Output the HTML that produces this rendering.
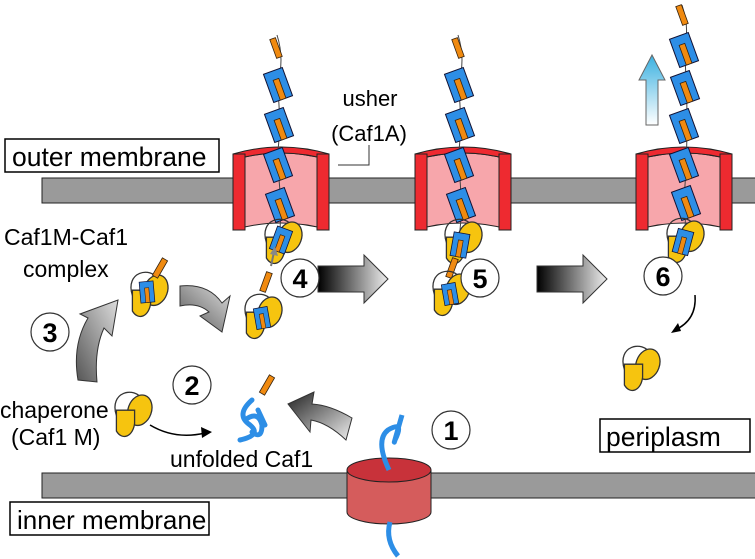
<!DOCTYPE html>
<html><head><style>
html,body{margin:0;padding:0;background:#fff;}
svg{display:block;font-family:"Liberation Sans",sans-serif;}
</style></head><body>
<svg width="755" height="559" viewBox="0 0 755 559" xmlns="http://www.w3.org/2000/svg">
<defs>
<linearGradient id="bw" x1="0" x2="1" y1="0" y2="0"><stop offset="0" stop-color="#000"/><stop offset="1" stop-color="#eee"/></linearGradient>
<linearGradient id="gw" x1="0" x2="1" y1="1" y2="0"><stop offset="0" stop-color="#555"/><stop offset="1" stop-color="#ddd"/></linearGradient>
<linearGradient id="bw2" x1="0" x2="1" y1="0" y2="1"><stop offset="0" stop-color="#222"/><stop offset="1" stop-color="#eee"/></linearGradient>
<linearGradient id="cy" x1="0" x2="0" y1="1" y2="0"><stop offset="0" stop-color="#fff"/><stop offset="1" stop-color="#3ab0e0"/></linearGradient>
<g id="sub"><rect x="-10" y="-15" width="20" height="30" fill="#2d8ee6" stroke="#113" stroke-width="1"/><rect x="-3" y="-6" width="6" height="21" fill="#f08a10" stroke="#321" stroke-width="0.8"/></g>
<g id="tip"><rect x="-3" y="-10" width="6" height="20" fill="#f08a10" stroke="#321" stroke-width="0.8"/></g>
<g id="chap" transform="scale(1.3)"><path d="M-12,-2 C-18,-20 2,-25 8,-14" fill="none" stroke="#333" stroke-width="1"/><ellipse cx="6" cy="-6" rx="9" ry="12" fill="#f6c40f" stroke="#333" transform="rotate(20 6 -6)"/><path d="M-12,-6 h14 v10 a8,12 0 0 1 -14,6 z" fill="#f6c40f" stroke="#333"/></g>
<g id="pore">
<path d="M0,0 Q48,-14 96,0 L96,70 Q48,56 0,70 Z" fill="#f7a6ab" stroke="#222"/>
<path d="M0,0 Q48,-14 96,0 L96,-6 Q48,-20 0,-6 Z" fill="#ee2a30" stroke="#222"/>
<rect x="0" y="-6" width="12" height="76" fill="#ee2a30" stroke="#222"/>
<rect x="84" y="-6" width="12" height="76" fill="#ee2a30" stroke="#222"/>
</g>
<g id="bigarr"><path d="M0,-13 H46 V-24 L70,0 L46,24 V13 H0 Z" fill="url(#bw)" stroke="#333"/></g>
</defs>

<rect x="42" y="178" width="720" height="25" fill="#9a9a9a" stroke="#222"/>
<rect x="42" y="473" width="720" height="25" fill="#9a9a9a" stroke="#222"/>
<rect x="5" y="139" width="214" height="33" fill="#fff" stroke="#000" stroke-width="1.5"/>
<text x="12" y="166" font-size="26.5">outer membrane</text>
<rect x="10" y="502" width="199" height="33" fill="#fff" stroke="#000" stroke-width="1.5"/>
<text x="17" y="529" font-size="26">inner membrane</text>
<rect x="600" y="419" width="150" height="33" fill="#fff" stroke="#000" stroke-width="1.5"/>
<text x="606" y="446" font-size="26.5">periplasm</text>

<use href="#pore" x="233" y="160"/>
<use href="#pore" x="415" y="160"/>
<use href="#pore" x="636" y="160"/>

<text x="370" y="106" font-size="22" text-anchor="middle">usher</text>
<text x="369" y="141" font-size="22" text-anchor="middle">(Caf1A)</text>
<path d="M369,145 V165 H338" fill="none" stroke="#333"/>

<g stroke="#444" fill="none"><path d="M277,35 Q285,60 277,85 Q282,120 277,160 Q282,200 280,230"/></g>
<use href="#tip" transform="translate(276,48) rotate(-20)"/>
<use href="#sub" transform="translate(278,85) rotate(-20)"/>
<use href="#sub" transform="translate(279,125) rotate(-20)"/>
<use href="#sub" transform="translate(278,165) rotate(-20)"/>
<use href="#sub" transform="translate(280,205) rotate(-20)"/>
<use href="#chap" transform="translate(282,245)"/>
<use href="#sub" transform="translate(281,240) rotate(20) scale(0.8)"/>
<path d="M271,266 L274,252" stroke="#777" stroke-width="2"/><path d="M270,254 L275,246 L278,256 Z" fill="#888"/>
<use href="#tip" transform="translate(266,282) rotate(20)"/>
<use href="#chap" transform="translate(262,320)"/>
<use href="#sub" transform="translate(262,318) rotate(-10) scale(0.7)"/>

<g stroke="#444" fill="none"><path d="M458,35 Q466,60 458,85 Q463,120 458,160 Q463,200 460,230"/></g>
<use href="#tip" transform="translate(458,48) rotate(-20)"/>
<use href="#sub" transform="translate(459,85) rotate(-20)"/>
<use href="#sub" transform="translate(460,125) rotate(-20)"/>
<use href="#sub" transform="translate(459,165) rotate(-20)"/>
<use href="#sub" transform="translate(461,205) rotate(-20)"/>
<use href="#chap" transform="translate(462,245)"/>
<use href="#sub" transform="translate(460,245) rotate(10) scale(0.8)"/>
<use href="#tip" transform="translate(452,268) rotate(20)"/>
<use href="#chap" transform="translate(450,297)"/>
<use href="#sub" transform="translate(450,294) rotate(-10) scale(0.7)"/>

<g stroke="#444" fill="none"><path d="M682,5 Q690,30 684,45 Q690,120 684,200 Q686,215 685,230"/></g>
<use href="#tip" transform="translate(682,15) rotate(-20)"/>
<use href="#sub" transform="translate(684,50) rotate(-20)"/>
<use href="#sub" transform="translate(685,88) rotate(-20)"/>
<use href="#sub" transform="translate(684,126) rotate(-20)"/>
<use href="#sub" transform="translate(684,165) rotate(-20)"/>
<use href="#sub" transform="translate(686,203) rotate(-20)"/>
<use href="#chap" transform="translate(684,244)"/>
<use href="#sub" transform="translate(683,242) rotate(15) scale(0.8)"/>
<path d="M646,125 V80 H639 L652,55 L665,80 H658 V125 Z" fill="url(#cy)" stroke="#666"/>

<use href="#chap" transform="translate(640,372)"/>
<path d="M695,295 Q697,320 675,330" fill="none" stroke="#000" stroke-width="1.5"/><path d="M671,333 L678,323 L681,331 Z" fill="#000"/>

<use href="#chap" transform="translate(148,298)"/>
<use href="#sub" transform="translate(147,292) rotate(-5) scale(0.7)"/>
<use href="#tip" transform="translate(160,268) rotate(30)"/>

<use href="#chap" transform="translate(132,418)"/>
<text x="0" y="418" font-size="23">chaperone</text>
<text x="11" y="445" font-size="23">(Caf1 M)</text>
<text x="4" y="245" font-size="23">Caf1M-Caf1</text>
<text x="23" y="277" font-size="23">complex</text>
<path d="M150,425 Q175,440 205,433" fill="none" stroke="#000" stroke-width="1.5"/><path d="M212,432 L201,427 L202,438 Z" fill="#000"/>

<g stroke="#2d8ee6" stroke-width="5" fill="none" stroke-linecap="round">
<path d="M252,400 Q235,415 250,425 Q262,435 240,440 M245,420 Q258,410 262,425 Q262,440 252,432 M258,410 L265,425"/>
</g>
<use href="#tip" transform="translate(267,385) rotate(30)"/>
<text x="170" y="467" font-size="23">unfolded Caf1</text>

<path d="M347,470 V512 A42,12 0 0 0 431,512 V470 Z" fill="#d55c5c" stroke="#222"/>
<ellipse cx="389" cy="470" rx="42" ry="12" fill="#c8323a" stroke="#222"/>
<path d="M389,470 Q375,440 388,430 Q405,420 395,440 Q392,450 402,415" fill="none" stroke="#2d8ee6" stroke-width="5"/>
<path d="M390,522 Q385,540 398,556" fill="none" stroke="#2d8ee6" stroke-width="5"/>

<!-- curved grey arrows -->
<path d="M78,380 Q72,345 88,318 L80,314 L118,300 L112,336 L104,328 Q94,350 97,382 Z" fill="url(#gw)" stroke="#333"/>
<path d="M180,286 Q208,283 222,303 L230,296 L222,332 L200,316 L209,312 Q198,302 180,306 Z" fill="url(#gw)" stroke="#333"/>
<path d="M352,418 Q330,405 312,404 L314,392 L288,404 L310,432 L311,420 Q328,423 346,440 Z" fill="url(#bw2)" stroke="#333"/>

<use href="#bigarr" x="318" y="279"/>
<use href="#bigarr" x="537" y="279"/>

<g fill="#fff" stroke="#333" stroke-width="1.2">
<circle cx="300" cy="278" r="19"/><circle cx="480" cy="278" r="19"/><circle cx="663" cy="276" r="19"/>
<circle cx="50" cy="332" r="19"/><circle cx="192" cy="385" r="19"/><circle cx="451" cy="430" r="19"/>
</g>
<g font-size="27" font-weight="bold" text-anchor="middle">
<text x="300" y="288">4</text><text x="480" y="288">5</text><text x="663" y="286">6</text>
<text x="50" y="342">3</text><text x="192" y="395">2</text><text x="451" y="440">1</text>
</g>
</svg>
</body></html>
